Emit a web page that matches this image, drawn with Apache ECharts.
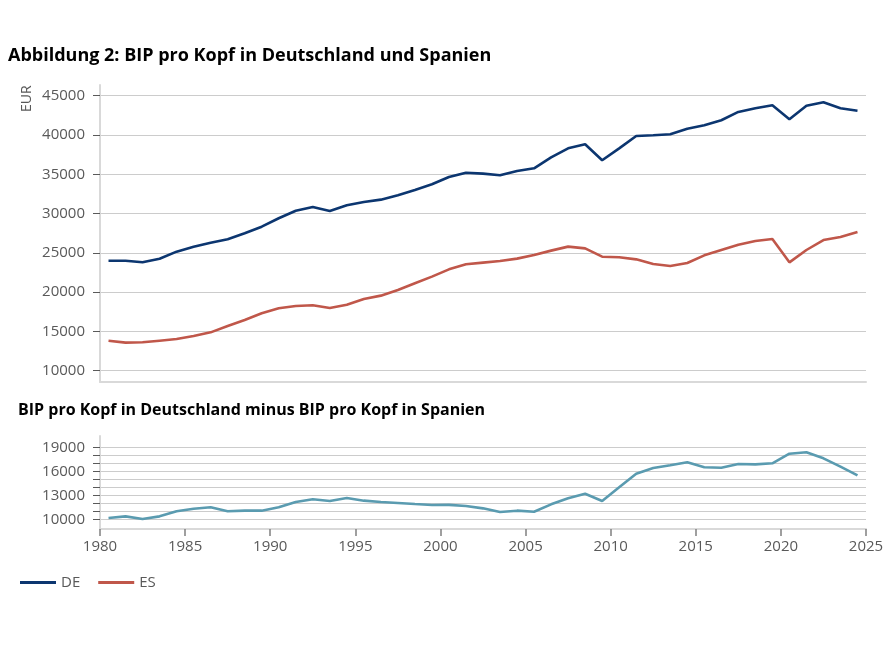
<!DOCTYPE html>
<html>
<head>
<meta charset="utf-8">
<script src="https://cdn.jsdelivr.net/npm/echarts@6/dist/echarts.min.js"></script>
<style>html,body{margin:0;padding:0;background:#fff}#c{width:892px;height:651px}</style>
</head>
<body>
<div id="c"></div>
<script>
// Years (mid-year positions)
var years = [1980,1981,1982,1983,1984,1985,1986,1987,1988,1989,1990,1991,1992,1993,1994,1995,1996,1997,1998,1999,2000,2001,2002,2003,2004,2005,2006,2007,2008,2009,2010,2011,2012,2013,2014,2015,2016,2017,2018,2019,2020,2021,2022,2023,2024];
var DE = [24000,24000,23800,24250,25150,25780,26290,26720,27490,28330,29400,30360,30830,30330,31050,31470,31770,32320,33000,33720,34650,35200,35080,34870,35420,35760,37160,38300,38810,36780,38300,39870,39960,40090,40800,41230,41870,42930,43400,43780,42000,43730,44160,43400,43090];
var ES = [13820,13570,13610,13820,14030,14420,14880,15690,16450,17300,17940,18230,18320,17980,18400,19130,19550,20270,21120,21970,22900,23540,23750,23960,24260,24730,25280,25790,25570,24510,24430,24170,23580,23330,23710,24680,25360,26040,26510,26760,23790,25360,26630,27020,27650];
var DIFF = [10160,10370,10040,10370,11000,11330,11500,11000,11080,11080,11500,12160,12500,12290,12660,12330,12160,12040,11910,11790,11810,11660,11370,10910,11080,10950,11870,12620,13200,12290,14000,15700,16410,16750,17120,16500,16450,16910,16870,17000,18200,18370,17620,16580,15500];
var topTicks = [10000,15000,20000,25000,30000,35000,40000,45000];
var bottomLabels = [10000,13000,16000,19000];
var bottomTicks = [10000,11000,12000,13000,14000,15000,16000,17000,18000,19000];

function pairs(vals){ return years.map(function(y,i){ return [y+0.5, vals[i]]; }); }
function plain(v){ return String(v); }

var FONT = "'Open Sans', 'Noto Sans', sans-serif";
var gridLine = {show:true, lineStyle:{color:'#cccccc', width:1}};
var axisGray = {show:true, lineStyle:{color:'#d9d9d9', width:2}};

var chart = echarts.init(document.getElementById('c'), null, {renderer:'canvas'});
chart.setOption({
  animation:false,
  backgroundColor:'#ffffff',
  title:[
    {text:'Abbildung 2: BIP pro Kopf in Deutschland und Spanien', left:8, top:47, padding:0,
     textStyle:{fontFamily:FONT, fontSize:18, fontWeight:'bold', color:'#000'}},
    {text:'BIP pro Kopf in Deutschland minus BIP pro Kopf in Spanien', left:18, top:402, padding:0,
     textStyle:{fontFamily:FONT, fontSize:16, fontWeight:'bold', color:'#000'}}
  ],
  graphic:[
    {type:'text', x:20, y:112, rotation:Math.PI/2,
     style:{text:'EUR', fontFamily:FONT, fontSize:14, fill:'#595959'}}
  ],
  legend:{
    left:20, top:575, padding:0, icon:'rect', itemWidth:36, itemHeight:3, itemGap:18,
    textStyle:{fontFamily:FONT, fontSize:15, color:'#595959'},
    data:['DE','ES']
  },
  grid:[
    {left:100, right:26, top:85, height:297},
    {left:100, right:26, top:436, height:93}
  ],
  xAxis:[
    {type:'value', gridIndex:0, min:1980, max:2025, interval:5,
     axisLine:axisGray, axisTick:{show:false}, axisLabel:{show:false}, splitLine:{show:false}},
    {type:'value', gridIndex:1, min:1980, max:2025, interval:5,
     axisLine:axisGray,
     axisTick:{show:true, length:7, lineStyle:{color:'#808080', width:1.5}},
     axisLabel:{show:true, formatter:plain, fontFamily:FONT, fontSize:15, color:'#595959', margin:10},
     splitLine:{show:false}}
  ],
  yAxis:[
    {type:'value', gridIndex:0, min:8560, max:46360,
     axisLine:axisGray,
     axisTick:{show:true, length:7, customValues:topTicks, lineStyle:{color:'#595959', width:1}},
     axisLabel:{show:true, customValues:topTicks, formatter:plain, fontFamily:FONT, fontSize:15, color:'#595959', margin:15},
     splitLine:gridLine},
    {type:'value', gridIndex:1, min:8790, max:20410,
     axisLine:axisGray,
     axisTick:{show:true, length:7, customValues:bottomTicks, lineStyle:{color:'#595959', width:1}},
     axisLabel:{show:true, customValues:bottomLabels, formatter:plain, fontFamily:FONT, fontSize:15, color:'#595959', margin:15},
     splitLine:gridLine}
  ],
  series:[
    {name:'DE', type:'line', xAxisIndex:0, yAxisIndex:0, data:pairs(DE), showSymbol:false,
     lineStyle:{color:'#0c3670', width:2.6}, itemStyle:{color:'#0c3670'}},
    {name:'ES', type:'line', xAxisIndex:0, yAxisIndex:0, data:pairs(ES), showSymbol:false,
     lineStyle:{color:'#c0574a', width:2.6}, itemStyle:{color:'#c0574a'}},
    {name:'Differenz', type:'line', xAxisIndex:1, yAxisIndex:1, data:pairs(DIFF), showSymbol:false,
     lineStyle:{color:'#5a9bb0', width:2.6}, itemStyle:{color:'#5a9bb0'}}
  ]
});
</script>
</body>
</html>
